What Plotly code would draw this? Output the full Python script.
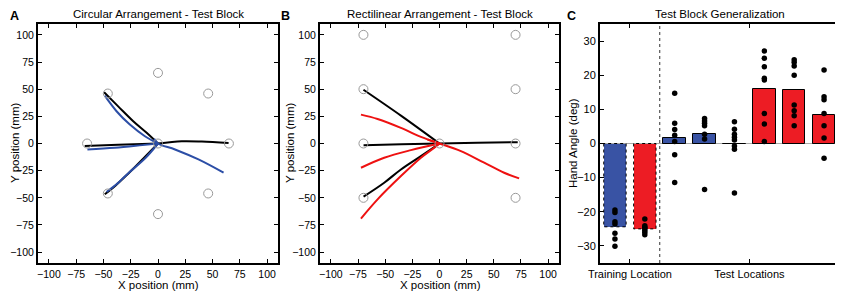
import plotly.graph_objects as go

# ---------------- data ----------------
# Panel A: circular arrangement targets
A_target_x = [0, 65, 46, 0, -46, -65, -46, 0, 46]
A_target_y = [0, 0, 46, 65, 46, 0, -46, -65, -46]
# Panel A trajectories (black)
A_black = [
    ([0, -10.4, -22.7, -36.5, -49.4], [0, 9.8, 20.5, 34.2, 47.1]),
    ([0, -36.5, -67.2], [0, -1.2, -2.4]),
    ([0, 21.8, 40.2, 64.7], [0, 2.1, 1.8, 0.4]),
    ([0, -14.3, -29.6, -38.8, -48.8], [0, -14.7, -30.0, -38.6, -46.8]),
]
# Panel A trajectories (blue)
A_blue = [
    ([0, -12.0, -25.8, -38.0, -48.8], [0, 6.7, 17.4, 29.7, 44.0]),
    ([0, -14.3, -39.6, -64.7], [0, -1.5, -4.0, -5.5]),
    ([0, -11.3, -26.7, -38.0, -47.2], [0, -13.1, -26.9, -37.6, -44.6]),
    ([-3.5, 0, 15.6, 37.1, 60.1], [4.3, 0, -5.5, -14.7, -26.9]),
]
# Panel B: rectilinear arrangement targets
B_target_x = [0, -70, -70, -70, -70, 70, 70, 70, 70]
B_target_y = [0, 100, 50, 0, -50, 100, 50, 0, -50]
B_black = [
    ([0, -35.5, -70.0], [0, 25.7, 49.5]),
    ([0, -35.0, -69.9], [0, -0.6, -1.5]),
    ([0, 35.0, 72.0], [0, 0.6, 1.2]),
    ([0, -17.1, -35.5, -50.9, -69.9], [0, -11.6, -23.9, -36.1, -48.9]),
]
B_red = [
    ([0, -17.1, -35.5, -57.0, -72.3], [0, 6.1, 14.4, 22.6, 26.6]),
    ([0, -26.3, -50.9, -72.3], [0, -6.1, -13.1, -22.3]),
    ([0, -5.0, -17.1, -35.5, -57.0, -72.3], [0, -4.0, -13.1, -30.0, -51.4, -69.1]),
    ([-11.0, 0, 19.7, 41.1, 59.5, 73.3], [3.7, 0, -7.0, -17.7, -26.9, -32.1]),
]
# Panel C: bars and individual subjects
bar_x = [1, 2, 3, 4, 5, 6, 7, 8]
bar_vals = [-24.4, -25.0, 1.7, 2.7, -0.2, 15.9, 15.6, 8.3]
bar_group = ["blue", "red", "blue", "blue", "blue", "red", "red", "red"]
bar_training = [True, True, False, False, False, False, False, False]
subject_vals = [
    [-19.5, -20.2, -22.9, -23.6, -26.3, -28.0, -30.1],
    [-22.1, -24.1, -24.5, -24.8, -25.4, -26.0, -26.7],
    [14.7, 5.9, 4.1, 2.4, 0.6, -3.3, -11.4],
    [7.3, 6.6, 5.9, 5.2, 2.7, 1.3, -13.5],
    [6.4, 4.2, 2.7, 1.8, 1.0, -0.7, -1.7, -14.5],
    [27.1, 25.0, 22.5, 19.1, 18.6, 8.8, 5.7, 0.6],
    [24.5, 23.8, 22.7, 20.0, 11.3, 9.6, 8.1, 5.2],
    [21.5, 13.7, 12.8, 8.8, 5.2, 1.6, -4.3],
]
C_ticks = [1.5, 5.5]
C_ticklabels = ["Training Location", "Test Locations"]
divider_x = 2.5

# ---------------- style ----------------
PAGE_OFF = 8            # default body margin of the html page
W, H = 843 - PAGE_OFF, 294 - PAGE_OFF
BLUE = "#3953a4"
RED = "#ed1c24"
LBLUE = "#2c4ea6"
LRED = "#ee1111"
FONT = "Liberation Sans, Arial, sans-serif"

def px(x):
    return (x - PAGE_OFF) / W

def py(y):
    return 1 - (y - PAGE_OFF) / H

fig = go.Figure()

# Panel A
for xs, ys in A_black:
    fig.add_trace(go.Scatter(x=xs, y=ys, mode="lines", line=dict(color="black", width=2, shape="spline"),
                             xaxis="x", yaxis="y", showlegend=False, hoverinfo="skip"))
for xs, ys in A_blue:
    fig.add_trace(go.Scatter(x=xs, y=ys, mode="lines", line=dict(color=LBLUE, width=2, shape="spline"),
                             xaxis="x", yaxis="y", showlegend=False, hoverinfo="skip"))
fig.add_trace(go.Scatter(x=A_target_x, y=A_target_y, mode="markers",
                         marker=dict(symbol="circle-open", size=9, color="#999999", line=dict(width=1)),
                         xaxis="x", yaxis="y", showlegend=False))

# Panel B
for xs, ys in B_black:
    fig.add_trace(go.Scatter(x=xs, y=ys, mode="lines", line=dict(color="black", width=2, shape="spline"),
                             xaxis="x2", yaxis="y2", showlegend=False, hoverinfo="skip"))
for xs, ys in B_red:
    fig.add_trace(go.Scatter(x=xs, y=ys, mode="lines", line=dict(color=LRED, width=2, shape="spline"),
                             xaxis="x2", yaxis="y2", showlegend=False, hoverinfo="skip"))
fig.add_trace(go.Scatter(x=B_target_x, y=B_target_y, mode="markers",
                         marker=dict(symbol="circle-open", size=9, color="#999999", line=dict(width=1)),
                         xaxis="x2", yaxis="y2", showlegend=False))

# Panel C bars
bw = 0.75
colors = [BLUE if g == "blue" else RED for g in bar_group]
line_w = [0 if t else 1 for t in bar_training]
fig.add_trace(go.Bar(x=bar_x, y=bar_vals, width=bw, marker=dict(color=colors, line=dict(color="black", width=line_w)),
                     xaxis="x3", yaxis="y3", showlegend=False))
# dotted outline for training bars
for xi, v, t in zip(bar_x, bar_vals, bar_training):
    if t:
        fig.add_trace(go.Scatter(x=[xi - bw / 2, xi - bw / 2, xi + bw / 2, xi + bw / 2, xi - bw / 2],
                                 y=[0, v, v, 0, 0], mode="lines",
                                 line=dict(color="black", width=1, dash="dot"),
                                 xaxis="x3", yaxis="y3", showlegend=False, hoverinfo="skip"))
# subject dots
dx, dy = [], []
for xi, vals in zip(bar_x, subject_vals):
    dx += [xi] * len(vals)
    dy += vals
fig.add_trace(go.Scatter(x=dx, y=dy, mode="markers", marker=dict(color="black", size=5.5),
                         xaxis="x3", yaxis="y3", showlegend=False))

ydom = [py(263), py(24)]
axis_common = dict(showline=True, linecolor="black", linewidth=2, mirror="allticks",
                   ticks="inside", ticklen=4, tickcolor="black", tickwidth=1,
                   showgrid=False, zeroline=False, automargin=False,
                   tickfont=dict(family=FONT, size=10.5, color="black"))

pos_ticks = [-100, -75, -50, -25, 0, 25, 50, 75, 100]
fig.update_layout(
    width=W, height=H, margin=dict(l=0, r=0, t=0, b=0, autoexpand=False),
    paper_bgcolor="white", plot_bgcolor="white",
    font=dict(family=FONT, color="black"),
    bargap=0,
    xaxis=dict(domain=[px(38), px(278)], range=[-110, 110], tickvals=pos_ticks, anchor="y", **axis_common),
    yaxis=dict(domain=ydom, range=[-110, 110], tickvals=pos_ticks, anchor="x", **axis_common),
    xaxis2=dict(domain=[px(320), px(559)], range=[-110, 110], tickvals=pos_ticks, anchor="y2", **axis_common),
    yaxis2=dict(domain=ydom, range=[-110, 110], tickvals=pos_ticks, anchor="x2", **axis_common),
    xaxis3=dict(domain=[px(600), px(839)], range=[0.5, 8.5], tickvals=C_ticks, ticktext=C_ticklabels, anchor="y3",
                **{**axis_common, "tickfont": dict(family=FONT, size=11, color="black")}),
    yaxis3=dict(domain=ydom, range=[-35, 35], tickvals=[-30, -20, -10, 0, 10, 20, 30], anchor="x3",
                **{**axis_common, "zeroline": True, "zerolinecolor": "#aaaaaa", "zerolinewidth": 1,
                   "tickfont": dict(family=FONT, size=11, color="black")}),
)

fig.add_shape(type="line", xref="x3", yref="y3 domain", x0=divider_x, x1=divider_x, y0=0, y1=1,
              line=dict(color="#333333", width=1, dash="dot"))

ann = []
def text(x, y, s, size=11.5, bold=False, angle=0, xanchor="center"):
    ann.append(dict(x=px(x), y=py(y), xref="paper", yref="paper", text=("<b>%s</b>" % s) if bold else s,
                    showarrow=False, textangle=angle, xanchor=xanchor, yanchor="middle",
                    font=dict(family=FONT, size=size, color="black")))

text(8, 15.5, "A", 12.5, True, xanchor="left")
text(285, 15.5, "B", 12.5, True)
text(571, 15.5, "C", 12.5, True)
text(158, 14, "Circular Arrangement - Test Block")
text(440, 14, "Rectilinear Arrangement - Test Block")
text(720, 14, "Test Block Generalization")
text(158, 285, "X position (mm)")
text(440, 285, "X position (mm)")
text(15, 143, "Y position (mm)", angle=-90)
text(290, 143, "Y position (mm)", angle=-90)
text(573, 143, "Hand Angle (deg)", angle=-90)
fig.update_layout(annotations=ann)

fig.write_html("out.html")
